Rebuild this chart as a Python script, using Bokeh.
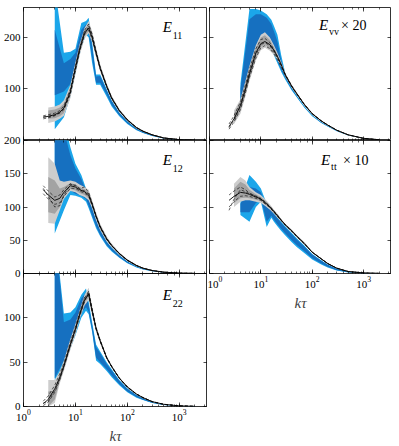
from bokeh.plotting import figure
from bokeh.layouts import row, column
from bokeh.models import LogAxis, LinearAxis, Label, FixedTicker, Range1d
from bokeh.embed import file_html
from bokeh.resources import INLINE

# ---------------- data ----------------
k_line = [2.4, 3, 4, 5, 6, 8, 10, 12, 15, 18, 21, 25, 30, 40, 50, 70, 100, 150, 200, 300, 500, 1000, 2000]
k_gray = [3, 4, 5, 6, 8, 10, 12, 15, 18, 21, 25, 30, 40, 50, 70, 100, 150, 200, 300, 500, 1000, 2000]
k_blue = [4, 6, 8, 10, 13, 16, 18, 21, 25, 30, 40, 50, 70, 100, 150, 200, 300, 500, 1000, 2000]

# E11
e11_mean = [45, 47, 50, 55, 63, 95, 140, 175, 208, 218, 200, 170, 140, 105, 82, 58, 40, 25, 18, 11, 5, 1.6, 0.4]
e11_d1 = [42, 44, 48, 54, 62, 92, 136, 172, 205, 222, 204, 172, 141, 106, 83, 58.5, 40.5, 25.3, 18.2, 11.1, 5.1, 1.6, 0.4]
e11_d2 = [48, 50, 53, 58, 67, 100, 146, 180, 212, 214, 196, 167, 138, 104, 81, 57.5, 39.5, 24.7, 17.8, 10.9, 4.9, 1.6, 0.4]
e11_d3 = [46, 46, 49, 53, 60, 90, 138, 178, 214, 226, 206, 173, 142, 106, 83, 58, 40, 25, 18, 11, 5, 1.6, 0.4]
e11_gl_hi = [64, 66, 70, 78, 108, 152, 186, 218, 232, 212, 180, 148, 111, 87, 61.5, 42, 26.5, 19, 11.7, 5.4, 1.8, 0.5]
e11_gl_lo = [34, 37, 42, 48, 82, 128, 164, 198, 208, 190, 162, 134, 100, 78, 55, 38, 23.5, 17, 10.3, 4.6, 1.4, 0.3]
e11_gd_hi = [58, 60, 64, 72, 102, 146, 181, 214, 227, 208, 177, 145, 109, 85.5, 60.3, 41.2, 25.9, 18.6, 11.4, 5.2, 1.7, 0.45]
e11_gd_lo = [42, 43, 47, 53, 88, 134, 170, 202, 212, 194, 165, 137, 102, 79.5, 56.2, 38.8, 24.1, 17.4, 10.6, 4.8, 1.5, 0.35]
e11_bl_hi = [300, 170, 172, 178, 228, 232, 238, 190, 128, 128, 100, 78, 55, 38, 23.5, 17, 10.3, 4.6, 1.4, 0.35]
e11_bl_lo = [22, 45, 85, 130, 180, 205, 200, 150, 108, 108, 85, 66, 47, 32, 20, 14.5, 8.8, 3.9, 1.2, 0.3]
e11_bd_hi = [215, 150, 158, 170, 215, 225, 228, 182, 124, 125, 97, 76, 53.5, 37, 23, 16.6, 10, 4.5, 1.35, 0.33]
e11_bd_lo = [88, 95, 110, 145, 190, 210, 208, 160, 112, 112, 89, 69, 49, 33.5, 21, 15.2, 9.2, 4.1, 1.25, 0.3]

# E_vv x 20
evv_mean = [27, 42, 68, 100, 130, 170, 188, 192, 186, 175, 163, 147, 127, 105, 91, 70, 52, 38, 30, 20, 11, 4.2, 1.5]
evv_d1 = [22, 36, 60, 92, 122, 160, 180, 184, 178, 168, 157, 143, 126, 104, 90, 69.5, 51.5, 37.5, 29.8, 19.9, 11, 4.2, 1.5]
evv_d2 = [32, 48, 75, 108, 138, 178, 196, 198, 190, 176, 163, 147, 128, 106, 91, 70.5, 52.5, 38.5, 30.2, 20.1, 11, 4.2, 1.5]
evv_d3 = [25, 40, 65, 97, 127, 166, 186, 190, 184, 172, 160, 145, 127, 105, 90.5, 70, 52, 38, 30, 20, 11, 4.2, 1.5]
evv_gl_hi = [58, 80, 115, 145, 185, 205, 210, 200, 185, 170, 152, 131, 108, 93.5, 72, 53.5, 39, 30.8, 20.6, 11.4, 4.4, 1.6]
evv_gl_lo = [32, 52, 85, 115, 155, 175, 180, 174, 166, 156, 142, 123, 102, 88.5, 68, 50.5, 37, 29.2, 19.4, 10.6, 4, 1.4]
evv_gd_hi = [52, 75, 110, 140, 180, 200, 204, 195, 181, 167, 150, 129, 107, 92.5, 71.2, 53, 38.6, 30.5, 20.4, 11.2, 4.3, 1.55]
evv_gd_lo = [36, 58, 92, 121, 162, 182, 186, 178, 169, 159, 144, 125, 103, 89.5, 68.8, 51, 37.4, 29.5, 19.6, 10.8, 4.1, 1.45]
evv_bl_hi = [110, 255, 255, 252, 245, 234, 222, 205, 165, 130, 103, 88, 67, 49.5, 36, 28.5, 19, 10.4, 4, 1.4]
evv_bl_lo = [65, 125, 165, 185, 190, 178, 165, 150, 133, 118, 97, 84, 64, 47, 34, 27, 18, 9.8, 3.7, 1.3]
evv_bd_hi = [100, 235, 245, 245, 238, 226, 212, 192, 155, 125, 101, 86, 65.5, 48.5, 35.3, 28, 18.7, 10.2, 3.9, 1.35]
evv_bd_lo = [75, 135, 175, 192, 195, 185, 170, 154, 137, 121, 99, 85, 65, 47.8, 34.6, 27.5, 18.3, 10, 3.8, 1.32]

# E12
e12_mean = [126, 118, 110, 113, 122, 132, 130, 126, 123, 118, 104, 86, 70, 52, 42, 30, 20, 12, 8, 4.5, 2, 0.6, 0.2]
e12_d1 = [132, 124, 115, 118, 126, 135, 132, 128, 130, 122, 106, 87, 71, 53, 42.5, 30.3, 20.2, 12.1, 8.1, 4.5, 2, 0.6, 0.2]
e12_d2 = [120, 112, 104, 106, 116, 128, 128, 124, 121, 116, 102, 85, 69, 51, 41.5, 29.7, 19.8, 11.9, 7.9, 4.5, 2, 0.6, 0.2]
e12_d3 = [128, 116, 100, 102, 118, 134, 133, 127, 124, 120, 105, 86, 70, 52, 42, 30, 20, 12, 8, 4.5, 2, 0.6, 0.2]
e12_gl_hi = [175, 165, 140, 138, 140, 138, 134, 130, 126, 110, 92, 75, 56, 45, 32, 21.5, 13, 8.7, 4.9, 2.2, 0.7, 0.25]
e12_gl_lo = [76, 75, 95, 112, 124, 122, 118, 115, 110, 98, 80, 65, 48, 39, 28, 18.5, 11, 7.3, 4.1, 1.8, 0.5, 0.15]
e12_gd_hi = [145, 140, 128, 130, 136, 134, 130, 127, 122, 107, 89, 73, 54, 43.5, 31, 21, 12.6, 8.4, 4.7, 2.1, 0.65, 0.22]
e12_gd_lo = [92, 90, 100, 115, 127, 125, 121, 118, 113, 101, 83, 67, 50, 40.5, 29, 19, 11.4, 7.6, 4.3, 1.9, 0.55, 0.18]
e12_bl_hi = [300, 230, 190, 165, 148, 128, 115, 100, 82, 67, 49, 39.5, 28, 18.6, 11, 7.3, 4.1, 1.8, 0.5, 0.15]
e12_bl_lo = [60, 95, 118, 117, 114, 108, 98, 84, 68, 56, 41, 33, 23.5, 15.5, 9.2, 6.2, 3.5, 1.5, 0.4, 0.1]
e12_bd_hi = [300, 215, 178, 158, 142, 124, 112, 97, 80, 65, 47.5, 38.5, 27.3, 18, 10.7, 7.1, 4, 1.75, 0.48, 0.14]
e12_bd_lo = [140, 130, 125, 120, 117, 112, 102, 87, 71, 58, 43, 34.5, 24.5, 16.2, 9.6, 6.5, 3.7, 1.6, 0.43, 0.12]

# E_tt x 10
ett_mean = [110, 116, 122, 121, 119, 115, 112, 107, 100, 93, 87, 80, 73, 64, 56, 45, 32, 22, 15, 8, 3, 0.8, 0.2]
ett_d1 = [118, 124, 130, 126, 121, 116, 113, 108, 101, 94, 88, 80.5, 73.5, 64.5, 56.3, 45.2, 32.2, 22.1, 15.1, 8, 3, 0.8, 0.2]
ett_d2 = [100, 108, 116, 117, 116, 113, 110, 105, 99, 92, 86, 79.5, 72.5, 63.5, 55.7, 44.8, 31.8, 21.9, 14.9, 8, 3, 0.8, 0.2]
ett_d3 = [95, 112, 126, 123, 120, 117, 111, 106, 100, 93, 87, 80, 73, 64, 56, 45, 32, 22, 15, 8, 3, 0.8, 0.2]
ett_gl_hi = [135, 145, 140, 130, 122, 118, 112, 104, 96, 90, 82, 75, 66, 58, 47.5, 33, 23, 15.7, 8.5, 3.2, 0.9, 0.25]
ett_gl_lo = [100, 108, 110, 110, 108, 106, 102, 96, 90, 84, 78, 71, 62, 54, 44.5, 31, 21, 14.3, 7.5, 2.8, 0.7, 0.15]
ett_gd_hi = [128, 138, 134, 126, 119, 115, 110, 102, 95, 89, 81, 74, 65, 57, 47, 32.6, 22.6, 15.4, 8.3, 3.1, 0.85, 0.22]
ett_gd_lo = [106, 113, 114, 113, 111, 109, 104, 98, 91, 85, 79, 72, 63, 55, 45, 31.4, 21.4, 14.6, 7.7, 2.9, 0.75, 0.18]
ett_bl_hi = [110, 148, 138, 128, 105, 97, 91, 85, 78, 71, 61, 53, 42, 29.5, 20, 13.5, 7, 2.5, 0.6, 0.12]
ett_bl_lo = [88, 78, 100, 108, 70, 84, 78, 71, 64, 57, 47, 40, 31, 21, 13.5, 9, 4.5, 1.5, 0.3, 0.05]
ett_bd_hi = [105, 130, 128, 122, 100, 95, 89, 83, 76, 69, 59, 51, 40.5, 28.5, 19.3, 13, 6.7, 2.4, 0.55, 0.1]
ett_bd_lo = [92, 92, 106, 112, 78, 87, 81, 74, 67, 60, 50, 43, 33.5, 23, 15, 10, 5, 1.7, 0.35, 0.06]

# E22
e22_mean = [3, 8, 20, 33, 46, 70, 87, 103, 120, 127, 108, 88, 74, 55, 45, 32, 22, 14, 10, 5.5, 2.5, 0.7, 0.2]
e22_d1 = [1, 5, 16, 30, 44, 68, 85, 101, 118, 129, 110, 89, 74.5, 55.5, 45.3, 32.2, 22.2, 14.1, 10.1, 5.5, 2.5, 0.7, 0.2]
e22_d2 = [6, 12, 24, 37, 49, 73, 90, 106, 123, 125, 106, 87, 73.5, 54.5, 44.7, 31.8, 21.8, 13.9, 9.9, 5.5, 2.5, 0.7, 0.2]
e22_d3 = [4, 6, 18, 31, 45, 70, 88, 104, 122, 130, 109, 88, 74, 55, 45, 32, 22, 14, 10, 5.5, 2.5, 0.7, 0.2]
e22_gl_hi = [30, 30, 40, 52, 76, 93, 108, 126, 134, 114, 92, 77, 57, 46.5, 33, 23, 14.6, 10.4, 5.8, 2.7, 0.8, 0.25]
e22_gl_lo = [0, 4, 26, 40, 64, 81, 98, 114, 120, 102, 84, 71, 53, 43.5, 31, 21, 13.4, 9.6, 5.2, 2.3, 0.6, 0.15]
e22_gd_hi = [17, 18, 36, 49, 73, 90, 106, 123, 131, 111, 90, 76, 56, 46, 32.5, 22.6, 14.3, 10.2, 5.7, 2.6, 0.75, 0.22]
e22_gd_lo = [0, 8, 29, 43, 67, 84, 100, 117, 123, 105, 86, 72, 54, 44, 31.5, 21.4, 13.7, 9.8, 5.3, 2.4, 0.65, 0.18]
e22_bl_hi = [200, 105, 106, 112, 126, 133, 118, 95, 70, 62, 50, 42, 30, 20.5, 13, 9.2, 5, 2.2, 0.6, 0.15]
e22_bl_lo = [30, 45, 65, 80, 100, 108, 104, 84, 52, 48, 40, 33, 24, 16, 10, 7.2, 3.9, 1.7, 0.45, 0.08]
e22_bd_hi = [200, 95, 98, 106, 122, 128, 114, 92, 67, 60, 48, 40.5, 29, 19.8, 12.6, 8.9, 4.8, 2.1, 0.55, 0.13]
e22_bd_lo = [32, 52, 72, 86, 106, 112, 107, 86, 55, 50, 42, 35, 25.5, 17, 10.6, 7.6, 4.1, 1.8, 0.5, 0.1]

x_limits = (1, 3500)
ylim_top = (0, 258)
ylim_mid = (0, 200)
ylim_bot = (0, 150)
yticks_top = [100, 200]
yticks_mid = [0, 50, 100, 150, 200]
yticks_bot = [0, 50, 100]

# ---------------- styling ----------------
C_BL = "#1ba6ea"
C_BD = "#1670c0"
C_GL = "#cdcdcd"
C_GD = "#a3a3a3"
FONT = "Liberation Serif"
FH = 133
FW_L = 184
FW_R = 182


def style_axis(ax, labels, minor):
    ax.axis_line_color = None
    ax.major_tick_in = 4
    ax.major_tick_out = 0
    ax.minor_tick_in = 2 if minor else 0
    ax.minor_tick_out = 0
    ax.major_tick_line_color = "black"
    ax.minor_tick_line_color = "black"
    ax.major_tick_line_width = 0.7
    ax.minor_tick_line_width = 0.6
    ax.major_label_text_font = FONT
    if labels:
        ax.major_label_text_font_size = "11px"
        ax.major_label_text_color = "black"
        ax.major_label_standoff = 3
    else:
        ax.major_label_text_font_size = "1px"
        ax.major_label_text_color = None
        ax.major_label_standoff = 0


def make_panel(data, ylim, yticks, left_labels, bottom_labels, fw, top_border, top_margin, bottom_border):
    p = figure(x_axis_type="log", x_range=Range1d(*x_limits), y_range=Range1d(*ylim),
               frame_width=fw, frame_height=FH, toolbar_location=None, output_backend="svg",
               min_border_left=21 if left_labels else 2, min_border_right=0,
               min_border_top=top_border, min_border_bottom=bottom_border)
    p.margin = (top_margin, 0, 0, 0)
    p.border_fill_color = None
    p.background_fill_color = None
    p.outline_line_color = "black"
    p.outline_line_width = 0.8
    p.grid.visible = False

    mean, d1, d2, d3, glh, gll, gdh, gdl, blh, bll, bdh, bdl = data
    p.varea(x=k_blue, y1=bll, y2=blh, fill_color=C_BL)
    p.varea(x=k_blue, y1=bdl, y2=bdh, fill_color=C_BD)
    p.varea(x=k_gray, y1=gll, y2=glh, fill_color=C_GL)
    p.varea(x=k_gray, y1=gdl, y2=gdh, fill_color=C_GD)
    for d in (d1, d2, d3):
        p.line(k_line, d, line_color="black", line_width=0.6, line_dash="3 2")
    p.line(k_line, mean, line_color="black", line_width=0.9)

    xa = p.xaxis[0]
    style_axis(xa, bottom_labels, True)
    if bottom_labels:
        xa.axis_label = "kτ"
        xa.axis_label_text_font = FONT
        xa.axis_label_text_font_size = "15px"
        xa.axis_label_text_font_style = "italic"
        xa.axis_label_standoff = 4
    ya = p.yaxis[0]
    ya.ticker = FixedTicker(ticks=yticks)
    style_axis(ya, left_labels, False)

    top = LogAxis()
    style_axis(top, False, True)
    p.add_layout(top, "above")
    right = LinearAxis(ticker=FixedTicker(ticks=yticks))
    style_axis(right, False, False)
    p.add_layout(right, "right")
    return p


def add_name(p, x, y, main, sub, extra=None):
    p.add_layout(Label(x=x, y=y, text=main, text_font=FONT, text_font_style="italic",
                       text_font_size="15px", text_color="black"))
    p.add_layout(Label(x=x, y=y, x_offset=10, y_offset=-4, text=sub, text_font=FONT,
                       text_font_size="10px", text_color="black"))
    if extra:
        p.add_layout(Label(x=x, y=y, x_offset=22, text=extra, text_font=FONT,
                           text_font_size="14px", text_color="black"))


D11 = (e11_mean, e11_d1, e11_d2, e11_d3, e11_gl_hi, e11_gl_lo, e11_gd_hi, e11_gd_lo,
       e11_bl_hi, e11_bl_lo, e11_bd_hi, e11_bd_lo)
DVV = (evv_mean, evv_d1, evv_d2, evv_d3, evv_gl_hi, evv_gl_lo, evv_gd_hi, evv_gd_lo,
       evv_bl_hi, evv_bl_lo, evv_bd_hi, evv_bd_lo)
D12 = (e12_mean, e12_d1, e12_d2, e12_d3, e12_gl_hi, e12_gl_lo, e12_gd_hi, e12_gd_lo,
       e12_bl_hi, e12_bl_lo, e12_bd_hi, e12_bd_lo)
DTT = (ett_mean, ett_d1, ett_d2, ett_d3, ett_gl_hi, ett_gl_lo, ett_gd_hi, ett_gd_lo,
       ett_bl_hi, ett_bl_lo, ett_bd_hi, ett_bd_lo)
D22 = (e22_mean, e22_d1, e22_d2, e22_d3, e22_gl_hi, e22_gl_lo, e22_gd_hi, e22_gd_lo,
       e22_bl_hi, e22_bl_lo, e22_bd_hi, e22_bd_lo)

p11 = make_panel(D11, ylim_top, yticks_top, True, False, FW_L, 7, 0, 0)
p12 = make_panel(D12, ylim_mid, yticks_mid, True, False, FW_L, 8, -8, 8)
p22 = make_panel(D22, ylim_bot, yticks_bot, True, True, FW_L, 8, -16, 0)
pvv = make_panel(DVV, ylim_top, yticks_top, False, False, FW_R, 7, 0, 0)
ptt = make_panel(DTT, ylim_mid, yticks_mid, False, True, FW_R, 8, -8, 0)
ptt.xaxis[0].major_label_overrides = {1: ""}

add_name(p11, 480, 204, "E", "11")
add_name(p12, 480, 158, "E", "12")
add_name(p22, 480, 117, "E", "22")
add_name(pvv, 136, 208, "E", "vv", "× 20")
add_name(ptt, 149, 159, "E", "tt", "× 10")

layout = row(column(p11, p12, p22), column(pvv, ptt))
open("out.html", "w").write(file_html(layout, INLINE))
